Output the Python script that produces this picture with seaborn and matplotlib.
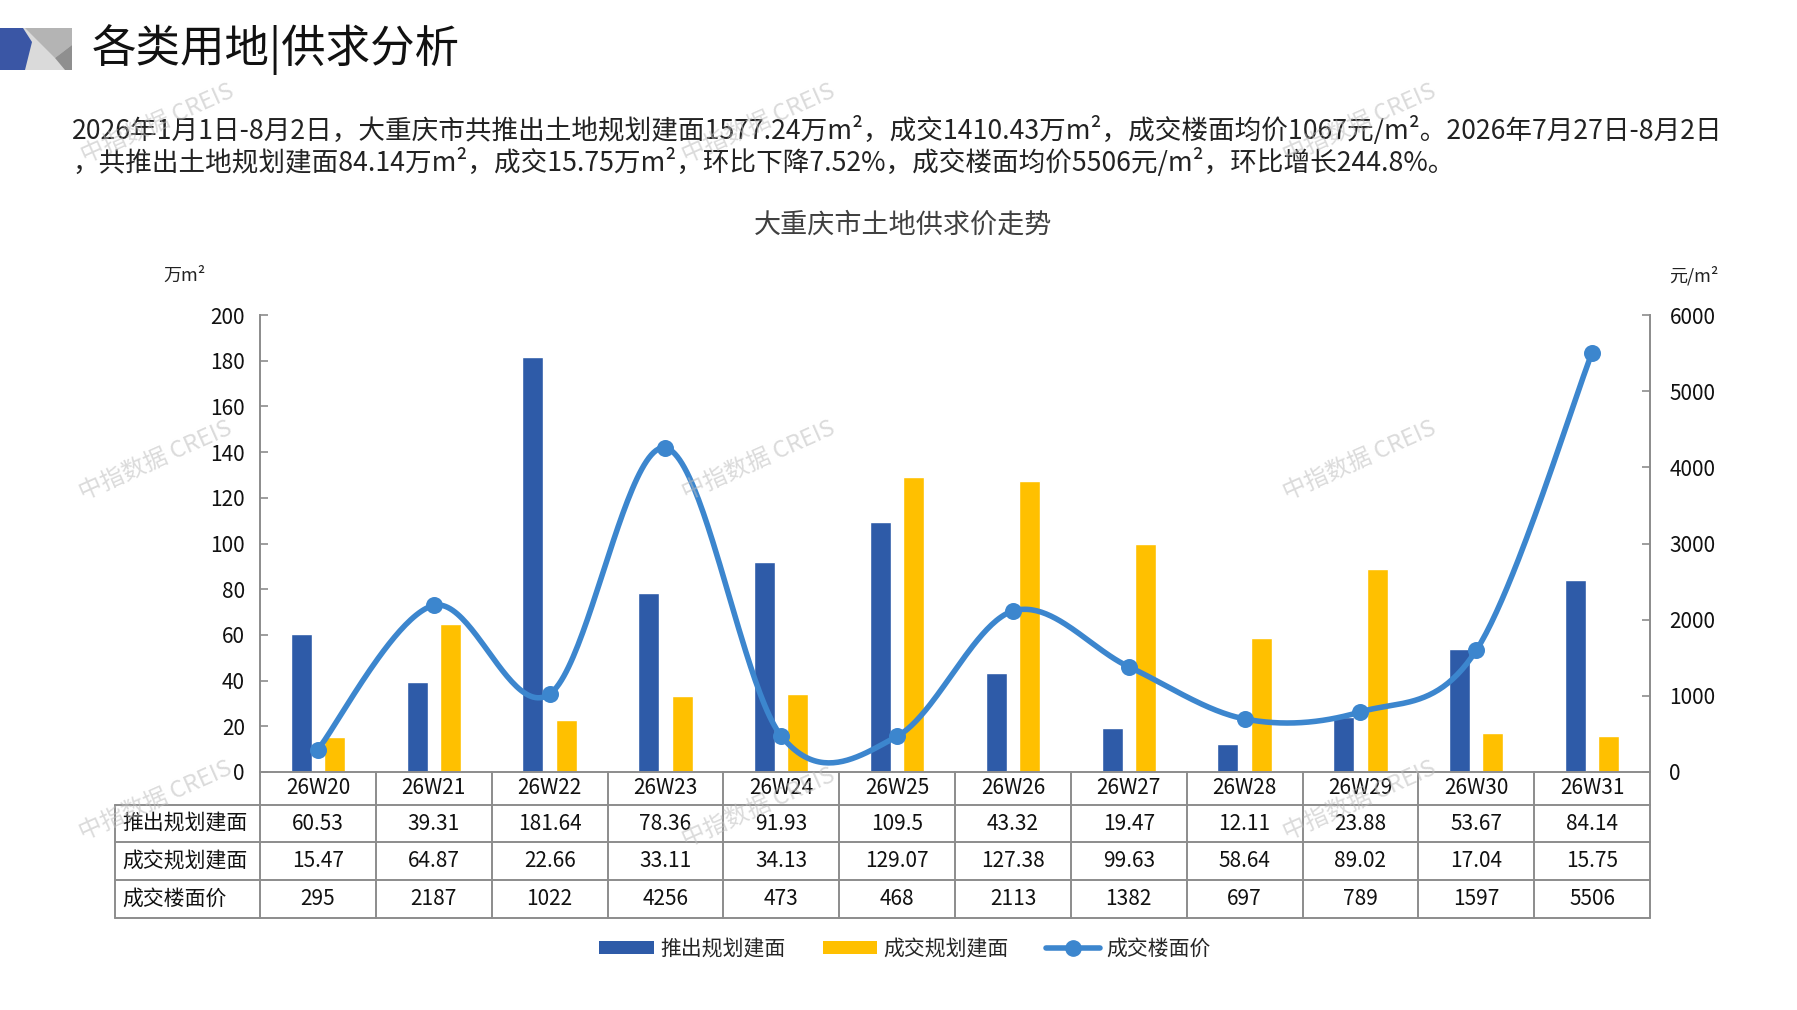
import numpy as np
import pandas as pd
import matplotlib
matplotlib.use("Agg")
import matplotlib.pyplot as plt
import seaborn as sns
from matplotlib.patches import Polygon, Patch
from matplotlib.lines import Line2D

# ---------------- data ----------------
weeks = ["26W20", "26W21", "26W22", "26W23", "26W24", "26W25",
         "26W26", "26W27", "26W28", "26W29", "26W30", "26W31"]
supply = [60.53, 39.31, 181.64, 78.36, 91.93, 109.5, 43.32, 19.47, 12.11, 23.88, 53.67, 84.14]
deal = [15.47, 64.87, 22.66, 33.11, 34.13, 129.07, 127.38, 99.63, 58.64, 89.02, 17.04, 15.75]
price = [295, 2187, 1022, 4256, 473, 468, 2113, 1382, 697, 789, 1597, 5506]
series_names = ["推出规划建面", "成交规划建面", "成交楼面价"]
left_ticks = [0, 20, 40, 60, 80, 100, 120, 140, 160, 180, 200]
right_ticks = [0, 1000, 2000, 3000, 4000, 5000, 6000]

header_title = "各类用地|供求分析"
para_line1 = "2026年1月1日-8月2日，大重庆市共推出土地规划建面1577.24万m²，成交1410.43万m²，成交楼面均价1067元/m²。2026年7月27日-8月2日"
para_line2 = "，共推出土地规划建面84.14万m²，成交15.75万m²，环比下降7.52%，成交楼面均价5506元/m²，环比增长244.8%。"
chart_title = "大重庆市土地供求价走势"
left_unit = "万m²"
right_unit = "元/m²"
watermark = "中指数据 CREIS"

# ---------------- style ----------------
BLUE = "#2E5BA8"
YELLOW = "#FFC000"
LINE = "#3C86CE"
GRAY = "#8C8C8C"

sns.set_style("white")
plt.rcParams["font.family"] = ["Noto Sans CJK SC", "DejaVu Sans"]
plt.rcParams["axes.unicode_minus"] = False

W, H = 1797, 1010
fig = plt.figure(figsize=(W / 100, H / 100), dpi=100)


def fx(px):
    return px / W


def fy(py):
    return 1 - py / H


# ---------------- header icon ----------------
def poly(pts, color):
    fig.patches.append(Polygon([(fx(x), fy(y)) for x, y in pts], closed=True,
                               transform=fig.transFigure, facecolor=color,
                               edgecolor="none", figure=fig))


poly([(22, 28), (72, 28), (72, 70), (22, 70)], "#DADADA")
poly([(25, 28), (72, 28), (72, 45), (55, 58)], "#B4B4B4")
poly([(55, 58), (72, 45), (72, 70), (65, 70)], "#8F8F8F")
poly([(0, 28), (23, 28), (32, 42), (25, 70), (0, 70)], "#3A56A5")

fig.text(fx(92), fy(50), header_title, fontsize=32, va="center", ha="left", color="#111111")

t1 = fig.text(fx(72), fy(130), para_line1, fontsize=17, va="center", ha="left", color="#222222")
t2 = fig.text(fx(72), fy(163), para_line2, fontsize=17, va="center", ha="left", color="#222222")
fig.canvas.draw()
w1 = t1.get_window_extent().width
fs = 17 * (1722 - 72) / w1
t1.set_fontsize(fs)
t2.set_fontsize(fs)

fig.text(fx(903), fy(225), chart_title, fontsize=19.5, ha="center", va="center", color="#404040")
fig.text(fx(184), fy(276), left_unit, fontsize=13, ha="center", va="center", color="#222222")
fig.text(fx(1694), fy(276), right_unit, fontsize=13, ha="center", va="center", color="#222222")

# ---------------- axes ----------------
ax_l, ax_r, ax_t, ax_b = 260, 1650, 315, 772
ax_h = ax_b - ax_t
ax_w = ax_r - ax_l
ax = fig.add_axes([fx(ax_l), fy(ax_b), ax_w / W, ax_h / H])

df = pd.DataFrame({
    "week": weeks * 2,
    "value": supply + deal,
    "series": [series_names[0]] * len(weeks) + [series_names[1]] * len(weeks),
})
sns.barplot(data=df, x="week", y="value", hue="series", palette=[BLUE, YELLOW],
            width=0.576, gap=0.37, saturation=1, errorbar=None, legend=False, ax=ax)

ax.set_ylim(0, 200)
ax.set_yticks(left_ticks)
ax.set_xticks([])
ax.set_xlabel("")
ax.set_ylabel("")
for s in ["top", "right"]:
    ax.spines[s].set_visible(False)
for s in ["left", "bottom"]:
    ax.spines[s].set_color(GRAY)
    ax.spines[s].set_linewidth(1.4)
ax.tick_params(axis="y", direction="in", length=6, width=1.2, color=GRAY,
               labelsize=15, pad=11, labelcolor="#111111")

ax2 = ax.twinx()
xs = np.arange(len(price), dtype=float)
ys = np.array(price, dtype=float)
pts = np.column_stack([xs, ys])
t = np.linspace(0, 1, 50)
segs = []
n = len(pts)
for i in range(n - 1):
    p0 = pts[max(i - 1, 0)]
    p1 = pts[i]
    p2 = pts[i + 1]
    p3 = pts[min(i + 2, n - 1)]
    b1 = p1 + (p2 - p0) / 6
    b2 = p2 - (p3 - p1) / 6
    seg = (((1 - t) ** 3)[:, None] * p1 + (3 * (1 - t) ** 2 * t)[:, None] * b1
           + (3 * (1 - t) * t ** 2)[:, None] * b2 + (t ** 3)[:, None] * p2)
    segs.append(seg if i == 0 else seg[1:])
curve = np.vstack(segs)
ax2.plot(curve[:, 0], curve[:, 1], color=LINE, lw=4, solid_capstyle="round", zorder=4)
sns.scatterplot(x=xs, y=ys, ax=ax2, color=LINE, s=150, edgecolor=LINE, linewidth=0,
                zorder=5, legend=False)
ax2.set_ylim(0, 6000)
ax2.set_yticks(right_ticks)
ax2.set_ylabel("")
for s in ["top", "left", "bottom"]:
    ax2.spines[s].set_visible(False)
ax2.spines["right"].set_color(GRAY)
ax2.spines["right"].set_linewidth(1.4)
ax2.tick_params(axis="y", direction="in", length=6, width=1.2, color=GRAY,
                labelsize=15, pad=14, labelcolor="#111111")
ax.set_xlim(-0.5, len(weeks) - 0.5)
ax2.set_xlim(-0.5, len(weeks) - 0.5)

# ---------------- data table ----------------
rows_px = [0, 33, 70, 108, 146]
rows = [-p / ax_h for p in rows_px]
left_col = (115 - ax_l) / ax_w
label_x = (122 - ax_l) / ax_w
ncat = len(weeks)
lkw = dict(transform=ax.transAxes, clip_on=False, color=GRAY, lw=1.4, zorder=3)

ax.plot([left_col, 1], [rows[1], rows[1]], **lkw)
for r in rows[2:]:
    ax.plot([left_col, 1], [r, r], **lkw)
for k in range(ncat + 1):
    ax.plot([k / ncat, k / ncat], [rows[0], rows[-1]], **lkw)
ax.plot([left_col, left_col], [rows[1], rows[-1]], **lkw)

tkw = dict(transform=ax.transAxes, clip_on=False, fontsize=15, va="center", color="#111111")
for k, wk in enumerate(weeks):
    cx = (k + 0.5) / ncat
    ax.text(cx, (rows[0] + rows[1]) / 2, wk, ha="center", **tkw)
    ax.text(cx, (rows[1] + rows[2]) / 2, f"{supply[k]:g}", ha="center", **tkw)
    ax.text(cx, (rows[2] + rows[3]) / 2, f"{deal[k]:g}", ha="center", **tkw)
    ax.text(cx, (rows[3] + rows[4]) / 2, f"{price[k]}", ha="center", **tkw)
for j, name in enumerate(series_names):
    ax.text(label_x, (rows[j + 1] + rows[j + 2]) / 2, name, ha="left", **tkw)

# ---------------- legend ----------------
handles = [Patch(facecolor=BLUE, edgecolor="none"),
           Patch(facecolor=YELLOW, edgecolor="none"),
           Line2D([0], [0], color=LINE, lw=4, marker="o", markersize=11)]
fig.legend(handles, series_names, loc="center", bbox_to_anchor=(fx(905), fy(949)),
           ncol=3, frameon=False, fontsize=15, handlelength=2.6, handleheight=0.55,
           columnspacing=1.8, handletextpad=0.3)

# ---------------- watermarks ----------------
wm_pos = [(158, 124), (759, 124), (1360, 124),
          (156, 461), (759, 461), (1360, 461),
          (156, 801), (759, 808), (1360, 801)]
for cx, cy in wm_pos:
    fig.text(fx(cx), fy(cy), watermark, rotation=24, rotation_mode="anchor",
             ha="center", va="center", fontsize=17, color="#BDBDBD", alpha=0.55, zorder=10)

fig.savefig("out.png", dpi=100)
